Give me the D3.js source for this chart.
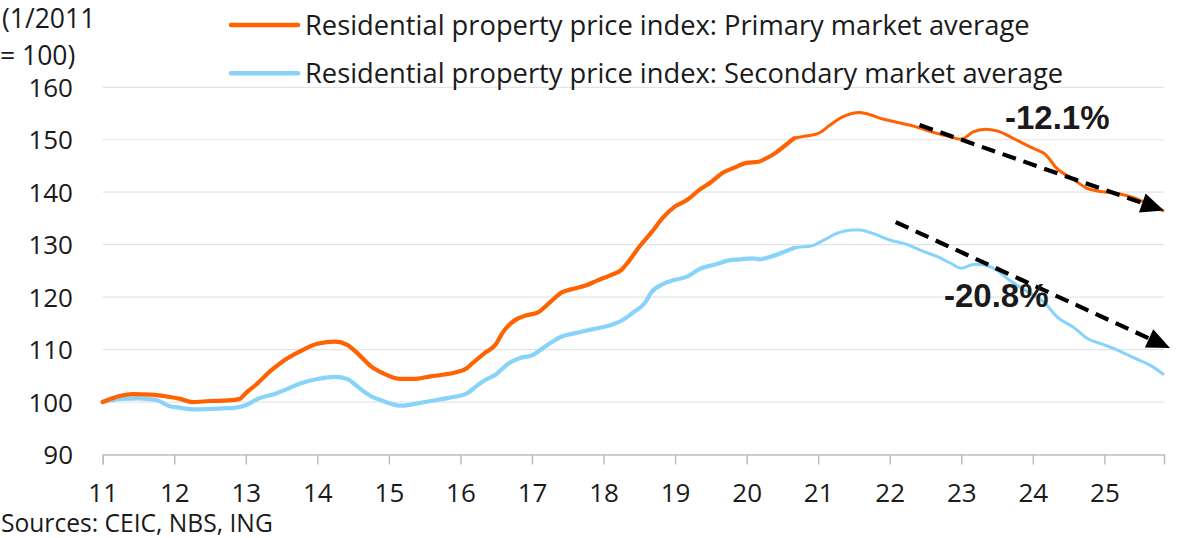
<!DOCTYPE html>
<html>
<head>
<meta charset="utf-8">
<script src="https://cdn.jsdelivr.net/npm/d3@7"></script>
<style>
  body { margin: 0; background: #fff; }
  svg { display: block; }
  text { font-family: "Open Sans", "Noto Sans", sans-serif; fill: #1a1a1a; }
</style>
</head>
<body>
<div id="chart"></div>
<script>
// ---- data ----
var seriesNames = [
  "Residential property price index: Primary market average",
  "Residential property price index: Secondary market average"
];

var primaryDates = ["2011-01","2011-04","2011-06","2011-09","2011-12","2012-02","2012-04","2012-07","2012-10","2012-12",
  "2013-01","2013-03","2013-05","2013-07","2013-10","2014-01","2014-04","2014-06","2014-08","2014-10","2014-12",
  "2015-03","2015-05","2015-08","2015-10","2015-12","2016-02","2016-03","2016-05","2016-07","2016-08","2016-10","2016-12",
  "2017-02","2017-04","2017-06","2017-08","2017-10","2017-12","2018-02","2018-04","2018-05","2018-07","2018-09","2018-11",
  "2019-01","2019-03","2019-05","2019-07","2019-09","2019-11","2020-01","2020-03","2020-04","2020-06","2020-07","2020-09",
  "2020-11","2021-01","2021-03","2021-05","2021-08","2021-09","2021-12","2022-02","2022-05","2022-08","2022-11",
  "2023-01","2023-03","2023-05","2023-07","2023-10","2024-01","2024-03","2024-05","2024-08","2024-10","2024-12",
  "2025-03","2025-06","2025-08","2025-11"];
var primaryValues = [100.0,101.2,101.5,101.4,101.0,100.6,100.0,100.2,100.3,100.6,
  101.7,103.6,105.8,107.6,109.6,111.1,111.5,110.9,109.0,106.8,105.5,
  104.4,104.4,104.9,105.2,105.6,106.4,107.4,109.3,111.1,113.1,115.5,116.5,
  117.1,119.0,120.9,121.6,122.2,123.2,124.1,125.2,126.5,129.6,132.3,135.2,
  137.3,138.5,140.4,141.9,143.7,144.7,145.6,145.8,146.3,147.6,148.5,150.3,
  150.7,151.2,152.8,154.3,155.2,155.0,153.9,153.4,152.6,151.5,150.6,
  150.1,151.5,152.0,151.7,150.1,148.4,147.3,144.6,142.3,140.8,140.2,
  139.8,138.9,137.9,136.4];

var secondaryDates = ["2011-01","2011-04","2011-07","2011-10","2011-12","2012-02","2012-05","2012-09","2012-11",
  "2013-01","2013-03","2013-06","2013-08","2013-10","2014-01","2014-04","2014-06","2014-08","2014-10","2014-12",
  "2015-03","2015-06","2015-09","2015-11","2016-02","2016-04","2016-05","2016-07","2016-09","2016-11",
  "2017-01","2017-02","2017-04","2017-06","2017-09","2017-10","2018-01","2018-02","2018-04","2018-06","2018-08","2018-09","2018-11",
  "2019-01","2019-03","2019-05","2019-08","2019-10","2019-12","2020-02","2020-03","2020-05","2020-07","2020-09","2020-12",
  "2021-02","2021-04","2021-07","2021-08","2021-10","2022-01","2022-04","2022-06","2022-09","2022-11",
  "2023-01","2023-03","2023-04","2023-07","2023-09","2023-12","2024-03","2024-05","2024-08","2024-10",
  "2025-01","2025-03","2025-06","2025-09","2025-11"];
var secondaryValues = [100.0,100.6,100.7,100.4,99.3,98.9,98.6,98.8,98.9,
  99.4,100.6,101.6,102.5,103.5,104.4,104.8,104.4,102.7,101.1,100.2,
  99.3,99.8,100.4,100.8,101.6,103.3,104.1,105.3,107.3,108.4,
  108.9,109.6,111.2,112.5,113.3,113.6,114.3,114.6,115.5,117.1,119.0,120.9,122.5,
  123.3,123.9,125.3,126.3,127.0,127.2,127.4,127.2,127.7,128.5,129.4,129.8,
  130.9,132.1,132.8,132.8,132.2,130.9,130.0,129.0,127.7,126.6,
  125.5,126.2,126.2,125.1,123.3,121.1,118.9,116.3,114.1,112.2,
  110.9,110.0,108.4,106.8,105.2];

var xTickDates = ["2011-01","2012-01","2013-01","2014-01","2015-01","2016-01","2017-01","2018-01",
  "2019-01","2020-01","2021-01","2022-01","2023-01","2024-01","2025-01"];
var xTickLabels = ["11","12","13","14","15","16","17","18","19","20","21","22","23","24","25"];
var yTicks = [90, 100, 110, 120, 130, 140, 150, 160];

// trend arrows: [date, value] at start and at the arrow tip
var arrowStarts = [["2022-06", 152.8], ["2022-02", 134.3]];
var arrowEnds = [["2025-11", 136.5], ["2025-12", 110.3]];
var arrowLabels = ["-12.1%", "-20.8%"];

var colors = ["#ff6200", "#87d3fa"];

// ---- helpers ----
function monthIndex(s) {
  var p = s.split("-");
  return (+p[0] - 2011) * 12 + (+p[1] - 1);
}

var W = 1200, H = 538;
var svg = d3.select("#chart").append("svg").attr("width", W).attr("height", H);

var x = d3.scaleLinear().domain([0, monthIndex("2025-11")]).range([102.7, 1164]);
var y = d3.scaleLinear().domain([90, 160]).range([454.5, 87.3]);

// gridlines
svg.append("g").selectAll("line")
  .data(yTicks.slice(1)).enter()
  .append("line")
  .attr("x1", x.range()[0]).attr("x2", x.range()[1])
  .attr("y1", function(d){ return y(d); }).attr("y2", function(d){ return y(d); })
  .attr("stroke", "#e4e4e4").attr("stroke-width", 1.2);

// y labels
svg.append("g").selectAll("text")
  .data(yTicks).enter()
  .append("text")
  .attr("x", 73).attr("y", function(d){ return y(d) + 9.5; })
  .attr("text-anchor", "end")
  .style("font-size", "26px")
  .text(function(d){ return d; });

// x axis
var xAxis = d3.axisBottom(x)
  .tickValues(xTickDates.map(monthIndex))
  .tickSize(10)
  .tickFormat(function(d, i){ return xTickLabels[i]; });

var gx = svg.append("g").attr("transform", "translate(0," + y(90) + ")").call(xAxis);
gx.select(".domain").attr("stroke", "#bdbdbd").attr("stroke-width", 1.5);
gx.selectAll(".tick line").attr("stroke", "#bdbdbd").attr("stroke-width", 1.5);
gx.selectAll(".tick text")
  .attr("y", 47).attr("dy", 0)
  .style("font-size", "26px")
  .style("font-family", "'Open Sans', sans-serif")
  .attr("fill", "#1a1a1a");

// lines
var line = d3.line()
  .x(function(d){ return x(d.m); })
  .y(function(d){ return y(d.v); })
  .curve(d3.curveMonotoneX);

function toPoints(dates, values) {
  return dates.map(function(d, i){ return { m: monthIndex(d), v: values[i] }; });
}

var series = [toPoints(primaryDates, primaryValues), toPoints(secondaryDates, secondaryValues)];

// older part of the chart is drawn with a heavier stroke than the appended part
var splitMonth = monthIndex("2020-07");
[1, 0].forEach(function(k){
  var pts = series[k];
  var early = pts.filter(function(p){ return p.m <= splitMonth + 2; });
  var late = pts.filter(function(p){ return p.m >= splitMonth - 2; });
  svg.append("path").datum(early)
    .attr("d", line).attr("fill", "none")
    .attr("stroke", colors[k]).attr("stroke-width", 4.2)
    .attr("stroke-linejoin", "round").attr("stroke-linecap", "round");
  svg.append("path").datum(late)
    .attr("d", line).attr("fill", "none")
    .attr("stroke", colors[k]).attr("stroke-width", 3)
    .attr("stroke-linejoin", "round");
});

// arrows
arrowStarts.forEach(function(s, i){
  var x0 = x(monthIndex(s[0])), y0 = y(s[1]);
  var x1 = x(monthIndex(arrowEnds[i][0])), y1 = y(arrowEnds[i][1]);
  var ang = Math.atan2(y1 - y0, x1 - x0);
  var len = 23, half = 10;
  var bx = x1 - len * Math.cos(ang), by = y1 - len * Math.sin(ang);
  svg.append("line")
    .attr("x1", x0).attr("y1", y0).attr("x2", bx).attr("y2", by)
    .attr("stroke", "#000").attr("stroke-width", 4.2)
    .attr("stroke-dasharray", "14,8");
  var px = -Math.sin(ang), py = Math.cos(ang);
  svg.append("path")
    .attr("d", "M" + x1 + "," + y1 +
      "L" + (bx + px * half) + "," + (by + py * half) +
      "L" + (bx - px * half) + "," + (by - py * half) + "Z")
    .attr("fill", "#000");
});

// percentage labels
var labelPos = [[1005, 128.5], [944, 306.5]];
arrowLabels.forEach(function(t, i){
  svg.append("text")
    .attr("x", labelPos[i][0]).attr("y", labelPos[i][1])
    .style("font-family", "'Liberation Sans', Arial, sans-serif")
    .style("font-weight", "bold")
    .style("font-size", "33px")
    .attr("fill", "#000")
    .text(t);
});

// legend
var legend = svg.append("g");
seriesNames.forEach(function(name, i){
  var ly = 25 + i * 48.3;
  legend.append("line")
    .attr("x1", 231).attr("x2", 298).attr("y1", ly).attr("y2", ly)
    .attr("stroke", colors[i]).attr("stroke-width", 4.5).attr("stroke-linecap", "round");
  legend.append("text")
    .attr("x", 305).attr("y", ly + 9.8)
    .style("font-size", "27.3px")
    .text(name);
});

// unit label and source
svg.append("text").attr("x", 2).attr("y", 28).style("font-size", "26.5px").text("(1/2011");
svg.append("text").attr("x", 0).attr("y", 65).style("font-size", "26.5px").text("= 100)");
svg.append("text").attr("x", 1).attr("y", 532).style("font-size", "24.6px").text("Sources: CEIC, NBS, ING");
</script>
</body>
</html>
